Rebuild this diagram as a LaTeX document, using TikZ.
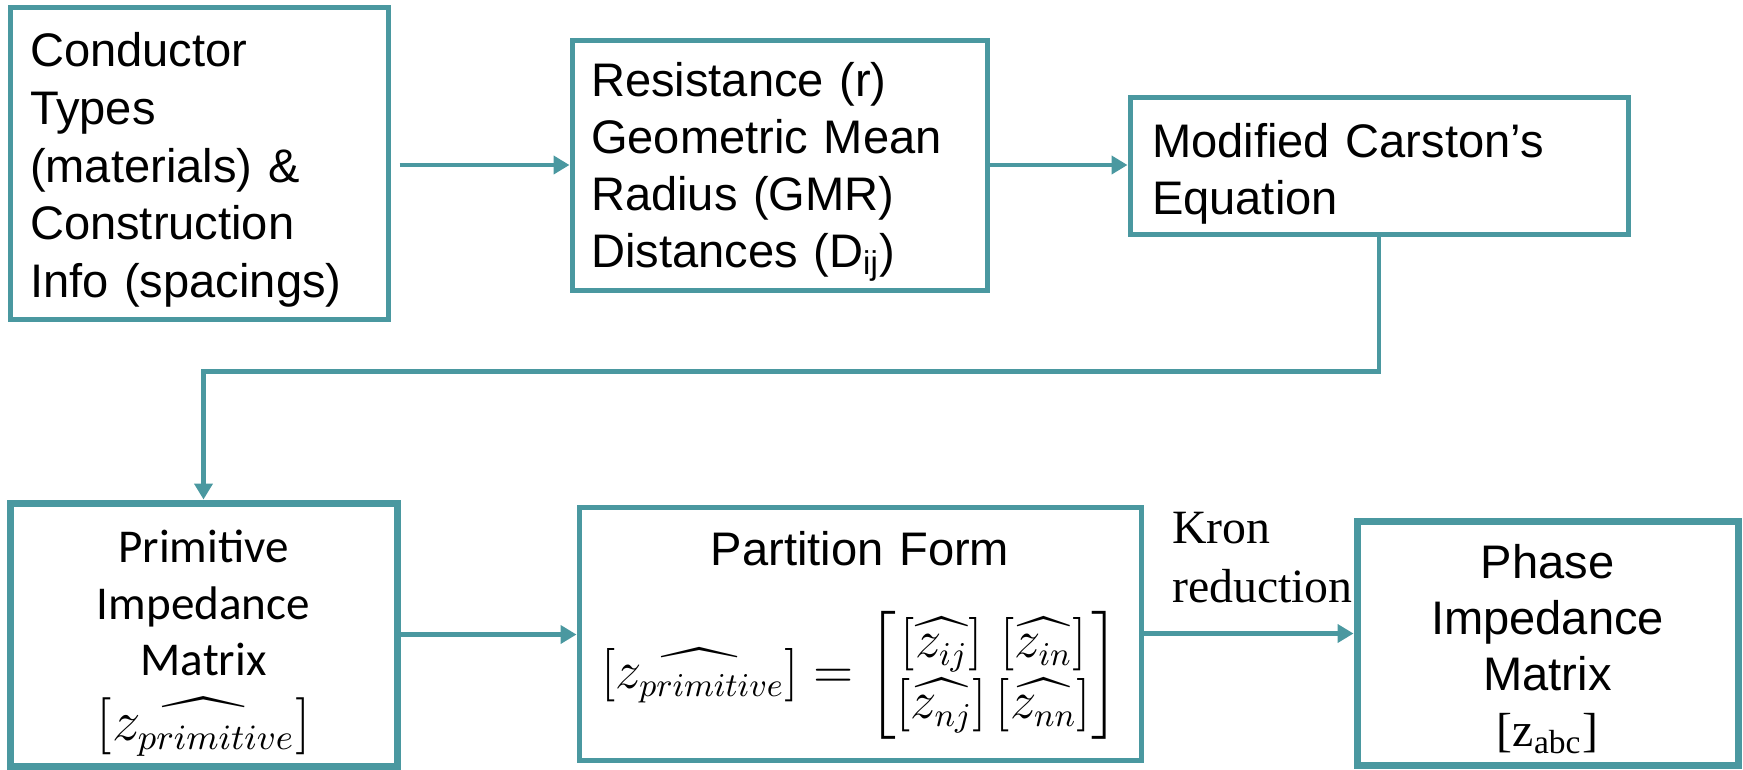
\documentclass[tikz,border=0pt]{standalone}
\usepackage{amsmath}
\usepackage{graphicx}
\usepackage{fontspec}
\setmainfont{Liberation Sans}
\newfontfamily\calibri{Carlito}
\newfontfamily\timesrm{Liberation Serif}
\usetikzlibrary{arrows.meta,positioning}
\definecolor{boxteal}{HTML}{4A98A0}
\newcommand{\padtop}[1]{\rule{0pt}{#1}}
\tikzset{
  box/.style={draw=boxteal, line width=0.5mm, fill=white, inner sep=0pt, inner xsep=2mm},
  thickbox/.style={box, line width=0.7mm},
  conn/.style={draw=boxteal, line width=0.45mm, -{Triangle[length=1.6mm,width=1.8mm]}},
  arialtxt/.style={font=\fontsize{13.4}{16.4}\selectfont},
  lefttxt/.style={arialtxt, align=left},
}
\begin{document}
\begin{tikzpicture}[x=0.1mm,y=0.1mm]
    \useasboundingbox (0,0) rectangle (1743,769);
    % top row
    \node[box, lefttxt, text width=33.8mm, minimum height=31.2mm] (cond) at (199,606)
        {\padtop{13.7pt}Conductor\\Types\\(materials) \&\\Construction\\Info (spacings)};
    \node[box, lefttxt, inner xsep=1.9mm, text width=37.7mm, minimum height=25mm,
          font=\fontsize{13.4}{16.2}\selectfont] (res) at (779.5,604)
        {\padtop{13.7pt}Resistance (r)\\Geometric Mean\\Radius (GMR)\\Distances (D\textsubscript{ij})};
    \node[box, lefttxt, inner xsep=2.2mm, text width=45.4mm, minimum height=13.7mm,
          font=\fontsize{13.4}{16.2}\selectfont] (carson) at (1379,603.5)
        {\padtop{14.5pt}Modified Carston’s\\Equation};
    % bottom row
    \node[thickbox, align=center, text width=34.7mm, minimum height=26.3mm,
          font=\calibri\fontsize{13.4}{16.1}\selectfont] (prim) at (203.5,134.5)
        {\padtop{14.1pt}Primitive\\Impedance\\Matrix\\[2.4pt]%
         \resizebox{21.4mm}{!}{$\left[\widehat{z_{primitive}}\right]$}};
    \node[box, arialtxt, align=center, text width=52.2mm, minimum height=25.3mm] (part) at (860,135.5)
        {\padtop{10.8pt}Partition Form\\[12pt]%
         \resizebox*{51.8mm}{12.8mm}{$\left[\widehat{z_{primitive}}\right]=
         \begin{bmatrix}\left[\widehat{z_{ij}}\right]\,\left[\widehat{z_{in}}\right]\\
         \left[\widehat{z_{nj}}\right]\left[\widehat{z_{nn}}\right]\end{bmatrix}$}};
    \node[thickbox, align=center, text width=34.1mm, minimum height=24.4mm,
          font=\fontsize{13.4}{15.9}\selectfont] (phase) at (1547.5,126)
        {\padtop{13.3pt}Phase\\Impedance\\Matrix\\{\timesrm\fontsize{13.6}{15.9}\selectfont[z\textsubscript{abc}]}};
    \node[inner sep=0pt, align=left, font=\timesrm\fontsize{13.6}{16.8}\selectfont,
          above right=3mm and 2.8mm of part.east] (kron) {Kron\\reduction};
    % connectors
    \draw[conn, shorten <=0.9mm] (res.west -| cond.east) -- (res.west);
    \draw[conn] (res.east) -- (res.east -| carson.west);
    \draw[conn] (carson.south) -- ++(0,-135) -| (prim.north);
    \draw[conn] (prim.east) -- (prim.east -| part.west);
    \draw[conn] (part.east) -- (part.east -| phase.west);
\end{tikzpicture}
\end{document}
